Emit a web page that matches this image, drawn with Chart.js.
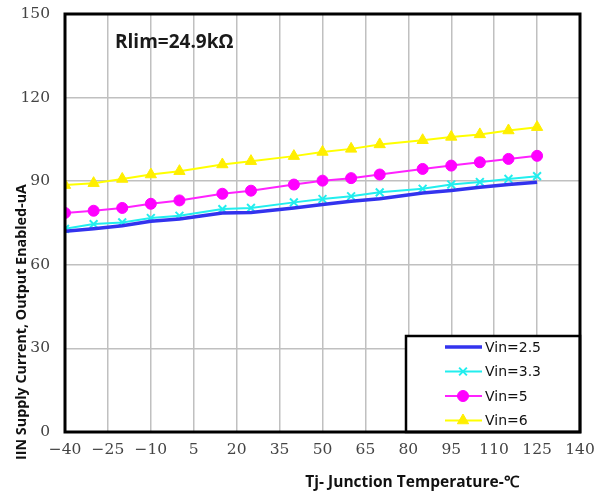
<!DOCTYPE html>
<html>
<head>
<meta charset="utf-8">
<script src="https://cdn.jsdelivr.net/npm/chart.js@4/dist/chart.umd.min.js"></script>
<style>
  html, body { margin: 0; padding: 0; background: #fff; }
  #wrap { position: relative; width: 601px; height: 495px; }
</style>
</head>
<body>
<div id="wrap"><canvas id="chart" width="601" height="495"></canvas></div>
<script>
// --- Data ---
const temps = [-40, -30, -20, -10, 0, 15, 25, 40, 50, 60, 70, 85, 95, 105, 115, 125];
const vin25 = [72.0, 72.9, 74.0, 75.6, 76.4, 78.6, 78.8, 80.4, 81.6, 82.8, 83.7, 85.8, 86.7, 87.8, 88.8, 89.6];
const vin33 = [72.9, 74.6, 75.2, 76.8, 77.6, 80.0, 80.4, 82.4, 83.6, 84.6, 86.0, 87.3, 88.8, 89.7, 90.8, 91.8];
const vin5 = [78.6, 79.4, 80.4, 81.9, 83.1, 85.5, 86.6, 88.8, 90.2, 91.1, 92.4, 94.4, 95.6, 96.8, 98.0, 99.1];
const vin6 = [88.6, 89.3, 90.8, 92.4, 93.6, 96.0, 97.2, 99.0, 100.5, 101.6, 103.2, 104.7, 105.9, 106.8, 108.2, 109.4];
const seriesNames = ["Vin=2.5", "Vin=3.3", "Vin=5", "Vin=6"];
const annotation = "Rlim=24.9kΩ";
const xTitle = "Tj- Junction Temperature-℃";
const yTitle = "IIN Supply Current, Output Enabled-uA";

const toPoints = (ys) => temps.map((t, i) => ({ x: t, y: ys[i] }));

// frame, legend box and free-placed texts
const extras = {
  id: "extras",
  afterDraw(chart) {
    const ctx = chart.ctx;
    const a = chart.chartArea;
    ctx.save();

    // Rlim label
    ctx.fillStyle = "#1a1a1a";
    ctx.font = "bold 19px 'Open Sans', sans-serif";
    ctx.textBaseline = "middle";
    ctx.textAlign = "left";
    ctx.fillText(annotation, 115, 43);

    // legend box
    const lx = 406, ly = 336, lw = a.right - lx, lh = a.bottom - ly;
    ctx.fillStyle = "#fff";
    ctx.fillRect(lx, ly, lw, lh);
    ctx.lineWidth = 2.5;
    ctx.strokeStyle = "#000";
    ctx.strokeRect(lx, ly, lw, lh);
    chart.data.datasets.forEach((ds, i) => {
      const y = 347 + i * 24.5;
      ctx.strokeStyle = ds.borderColor;
      ctx.lineWidth = ds.borderWidth;
      ctx.beginPath();
      ctx.moveTo(445, y);
      ctx.lineTo(482, y);
      ctx.stroke();
      if (ds.pointStyle && ds.pointRadius > 0) {
        ctx.fillStyle = ds.pointBackgroundColor;
        ctx.strokeStyle = ds.pointBorderColor;
        ctx.lineWidth = ds.pointBorderWidth || 1;
        Chart.helpers.drawPoint(ctx, {
          pointStyle: ds.pointStyle,
          radius: ds.pointRadius,
          borderWidth: ds.pointBorderWidth || 1,
          rotation: 0
        }, 463, y);
      }
      ctx.fillStyle = "#111";
      ctx.font = "14px 'DejaVu Sans', sans-serif";
      ctx.textAlign = "left";
      ctx.fillText(seriesNames[i], 485, y + 1);
    });

    // plot frame
    ctx.lineWidth = 3;
    ctx.strokeStyle = "#000";
    ctx.strokeRect(a.left, a.top, a.right - a.left, a.bottom - a.top);

    // axis titles
    ctx.fillStyle = "#111";
    ctx.textAlign = "center";
    ctx.font = "bold 15.5px 'Open Sans', sans-serif";
    ctx.fillText(xTitle, 412, 483);
    ctx.font = "bold 14.3px 'Open Sans', sans-serif";
    ctx.translate(22, 322);
    ctx.rotate(-Math.PI / 2);
    ctx.fillText(yTitle, 0, 0);
    ctx.restore();
  }
};

const tickFont = { family: "'DejaVu Serif', serif", size: 15.5 };

const chart = new Chart(document.getElementById("chart"), {
  type: "scatter",
  data: {
    datasets: [
      {
        label: seriesNames[0],
        data: toPoints(vin25),
        showLine: true,
        borderColor: "#3333ee",
        borderWidth: 3.5,
        pointRadius: 0,
        pointStyle: false
      },
      {
        label: seriesNames[1],
        data: toPoints(vin33),
        showLine: true,
        borderColor: "#22eeee",
        borderWidth: 2,
        pointStyle: "crossRot",
        pointRadius: 5.5,
        pointBorderColor: "#22eeee",
        pointBackgroundColor: "#22eeee",
        pointBorderWidth: 2
      },
      {
        label: seriesNames[2],
        data: toPoints(vin5),
        showLine: true,
        borderColor: "#ff22ff",
        borderWidth: 2,
        pointStyle: "circle",
        pointRadius: 5.5,
        pointBorderColor: "#ff00ff",
        pointBackgroundColor: "#ff00ff",
        pointBorderWidth: 1
      },
      {
        label: seriesNames[3],
        data: toPoints(vin6),
        showLine: true,
        borderColor: "#ffff00",
        borderWidth: 2,
        pointStyle: "triangle",
        pointRadius: 6.5,
        pointBorderColor: "#ffee00",
        pointBackgroundColor: "#ffee00",
        pointBorderWidth: 1
      }
    ]
  },
  options: {
    responsive: false,
    animation: false,
    layout: { padding: { top: 14, right: 21, bottom: 0, left: 0 } },
    plugins: {
      legend: { display: false },
      tooltip: { enabled: false }
    },
    scales: {
      x: {
        type: "linear",
        min: -40,
        max: 140,
        afterFit: (s) => {
          s.height = 63;
          s.paddingLeft = 0;
          s.paddingRight = 0;
        },
        afterBuildTicks: (s) => {
          s.ticks = [];
          for (let v = -40; v <= 140; v += 15) s.ticks.push({ value: v });
        },
        ticks: {
          color: "#444",
          font: tickFont,
          padding: 9,
          maxRotation: 0,
          callback: (v) => (v < 0 ? "\u2212" + Math.abs(v) : String(v))
        },
        grid: { color: "#c0c0c0", lineWidth: 1.5, drawTicks: false },
        border: { display: false }
      },
      y: {
        min: 0,
        max: 150,
        afterFit: (s) => {
          s.width = 65;
          s.paddingTop = 0;
          s.paddingBottom = 0;
        },
        ticks: {
          stepSize: 30,
          color: "#444",
          font: tickFont,
          padding: 15
        },
        grid: { color: "#c0c0c0", lineWidth: 1.5, drawTicks: false },
        border: { display: false }
      }
    }
  },
  plugins: [extras]
});
</script>
</body>
</html>
